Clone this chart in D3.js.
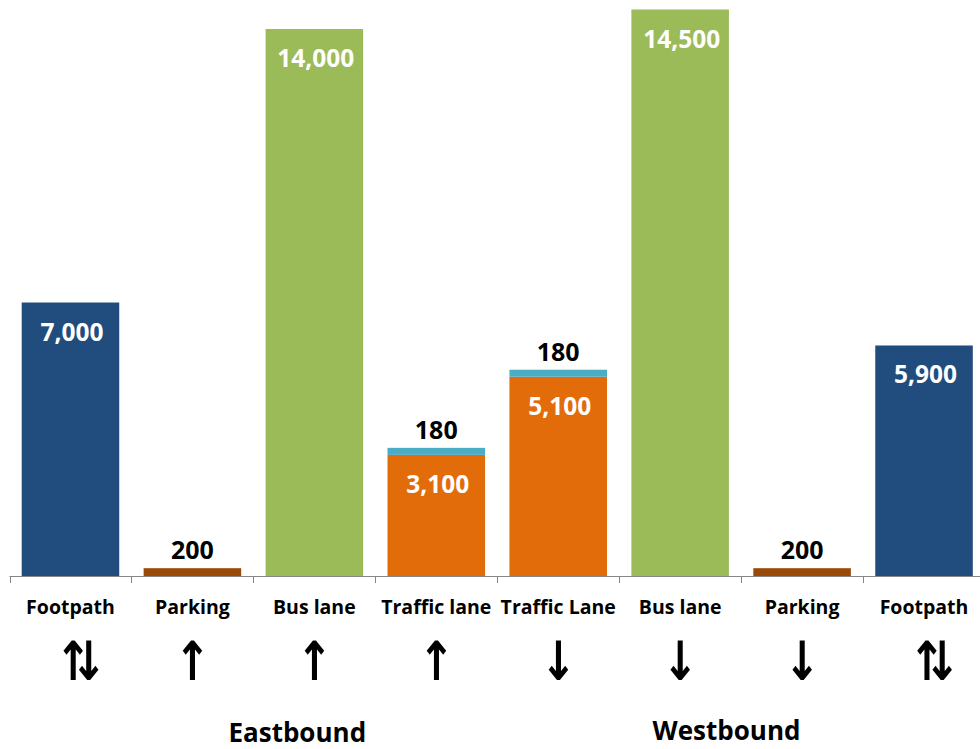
<!DOCTYPE html>
<html>
<head>
<meta charset="utf-8">
<script src="https://cdn.jsdelivr.net/npm/d3@7"></script>
<style>
  html, body { margin: 0; padding: 0; background: #ffffff; }
  svg { display: block; }
  text { font-family: "Open Sans", "DejaVu Sans", sans-serif; font-weight: 700; }
</style>
</head>
<body>
<svg id="chart" width="980" height="749"></svg>
<script>
// Road space allocation, people per hour, by lane across the street section
const categories = ["Footpath", "Parking", "Bus lane", "Traffic lane", "Traffic Lane", "Bus lane", "Parking", "Footpath"];
const laneTypes  = ["footpath", "parking", "bus", "traffic", "traffic", "bus", "parking", "footpath"];
const mainValues = [7000, 200, 14000, 3100, 5100, 14500, 200, 5900];
const topValues  = [0, 0, 0, 180, 180, 0, 0, 0];
const directions = ["↑↓", "↑", "↑", "↑", "↓", "↓", "↓", "↑↓"];
const groupLabels = ["Eastbound", "Westbound"];

const colors = {
  footpath: "#214C7E",
  parking:  "#9A4A07",
  bus:      "#9BBB59",
  traffic:  "#E36C0A",
  top:      "#4BACC6"
};

const svg = d3.select("#chart");
const idx = d3.range(categories.length);

const x = d3.scaleBand()
  .domain(idx)
  .range([9.5, 985])
  .paddingInner(0.2)
  .paddingOuter(0.1);

const y = d3.scaleLinear()
  .domain([0, 14500])
  .range([576, 9.5]);

const bw = x.bandwidth();
const cx = i => x(i) + bw / 2;

// main bars
svg.append("g").selectAll("rect")
  .data(idx)
  .join("rect")
  .attr("x", i => x(i))
  .attr("width", bw)
  .attr("y", i => y(mainValues[i]))
  .attr("height", i => y(0) - y(mainValues[i]))
  .attr("fill", i => colors[laneTypes[i]]);

// stacked cap segments on the traffic lanes
svg.append("g").selectAll("rect")
  .data(idx.filter(i => topValues[i] > 0))
  .join("rect")
  .attr("x", i => x(i))
  .attr("width", bw)
  .attr("y", i => y(mainValues[i] + topValues[i]))
  .attr("height", i => y(mainValues[i]) - y(mainValues[i] + topValues[i]))
  .attr("fill", colors.top);

// category axis with tick marks between lanes
const axisG = svg.append("g");
axisG.append("line")
  .attr("x1", 9.5).attr("x2", 985)
  .attr("y1", 576.5).attr("y2", 576.5)
  .attr("stroke", "#868686").attr("stroke-width", 1);
const step = x.step();
const edges = d3.range(categories.length + 1).map(k => 9.5 + k * step);
axisG.selectAll("line.tick")
  .data(edges)
  .join("line")
  .attr("class", "tick")
  .attr("x1", d => Math.round(d) + 0.5).attr("x2", d => Math.round(d) + 0.5)
  .attr("y1", 576).attr("y2", 583)
  .attr("stroke", "#868686").attr("stroke-width", 1);

// value labels inside tall bars (white)
const insideIdx = idx.filter(i => mainValues[i] >= 1000);
svg.append("g").selectAll("text")
  .data(insideIdx)
  .join("text")
  .attr("x", i => cx(i) + 1.5)
  .attr("y", i => y(mainValues[i]) + 38)
  .attr("text-anchor", "middle")
  .attr("font-size", 24.5)
  .attr("font-weight", 600)
  .attr("fill", "#ffffff")
  .text(i => d3.format(",")(mainValues[i]));

// value labels above short bars and cap segments (black)
const aboveIdx = idx.filter(i => mainValues[i] < 1000 || topValues[i] > 0);
svg.append("g").selectAll("text")
  .data(aboveIdx)
  .join("text")
  .attr("x", i => cx(i))
  .attr("y", i => y(mainValues[i] + topValues[i]) - 9)
  .attr("text-anchor", "middle")
  .attr("font-size", 25)
  .attr("fill", "#000000")
  .text(i => d3.format(",")(topValues[i] > 0 ? topValues[i] : mainValues[i]));

// category names
svg.append("g").selectAll("text")
  .data(idx)
  .join("text")
  .attr("x", i => cx(i))
  .attr("y", 614)
  .attr("text-anchor", "middle")
  .attr("font-size", 19.5)
  .attr("fill", "#000000")
  .text(i => categories[i]);

// travel direction arrows (narrowed horizontally to get tall, slim arrows)
svg.append("g").selectAll("text")
  .data(idx)
  .join("text")
  .attr("text-anchor", "middle")
  .attr("font-family", "Noto Sans CJK JP")
  .attr("font-weight", 500)
  .attr("font-size", 54)
  .attr("letter-spacing", i => directions[i].length > 1 ? -26 : 0)
  .attr("fill", "#000000")
  .attr("transform", i => `translate(${cx(i)},680) scale(0.8,1)`)
  .text(i => directions[i]);

// direction group titles
svg.append("text")
  .attr("x", cx(2) - 0.14 * step)
  .attr("y", 742)
  .attr("text-anchor", "middle")
  .attr("font-size", 26)
  .attr("fill", "#000000")
  .text(groupLabels[0]);

svg.append("text")
  .attr("x", (cx(5) + cx(6)) / 2 - 0.12 * step)
  .attr("y", 740)
  .attr("text-anchor", "middle")
  .attr("font-size", 26)
  .attr("fill", "#000000")
  .text(groupLabels[1]);
</script>
</body>
</html>
